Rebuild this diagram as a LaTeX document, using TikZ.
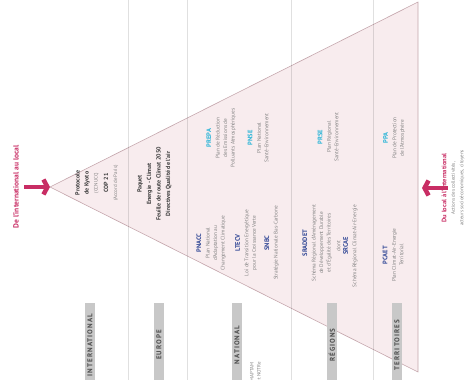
\documentclass[tikz,border=0pt]{standalone}
\usepackage{fontspec}
\setmainfont{PT Sans}
\newfontfamily\levelfont[LetterSpace=15]{PT Sans}
\usepackage{tikz}
\usetikzlibrary{arrows.meta}
\definecolor{flowpink}{RGB}{200,45,100}
\definecolor{funnelfill}{RGB}{248,236,238}
\definecolor{funneledge}{RGB}{196,166,172}
\definecolor{planblue}{RGB}{50,72,150}
\definecolor{plancyan}{RGB}{40,180,215}
\definecolor{darktxt}{RGB}{60,60,60}
\definecolor{greytxt}{RGB}{130,130,130}
\definecolor{levelgrey}{RGB}{200,200,200}
\tikzset{
funnel/.style = {draw = funneledge, fill = funnelfill, line width = 0.6pt},
sep/.style = {draw = black, opacity = 0.12, line width = 0.6pt},
level/.style = {rotate = 90, fill = levelgrey, text = black!70, minimum width = 84pt, minimum height = 10.5pt, inner sep = 0pt, font = \levelfont\bfseries\fontsize{7}{8}\selectfont},
plan/.style = {rotate = 90, align = center, inner sep = 0pt, text = greytxt, font = \fontsize{5.3}{7.5}\selectfont},
treaty/.style = {rotate = 90, align = center, inner sep = 0pt, text = darktxt, font = \bfseries\fontsize{6}{9}\selectfont},
flow/.style = {draw = flowpink, line width = 4.5pt, -{Straight Barb[length = 4pt, width = 15pt]}},
flowtext/.style = {rotate = 90, align = center, inner sep = 0pt, text = flowpink, font = \bfseries\fontsize{7.5}{9}\selectfont},
}
% acronyms: blue for climate plans, cyan for air and health plans
\newcommand{\acr}[1]{{\color{planblue}\bfseries\fontsize{6.5}{7.5}\selectfont #1}}
\newcommand{\acrc}[1]{{\color{plancyan}\bfseries\fontsize{6.5}{7.5}\selectfont #1}}
\newcommand{\note}[1]{{\mdseries\color{greytxt}\fontsize{5}{7}\selectfont #1}}

\begin{document}
\begin{tikzpicture}[x = 1pt, y = -1pt]
    \useasboundingbox (0, 0) rectangle (469, 380);
    \clip (0, 0) rectangle (469, 380);
    \coordinate (apex) at (50, 187);
    \coordinate (topRight) at (418, 2);
    \coordinate (botRight) at (418, 372);
    \path[funnel] (apex) -- (topRight) -- (botRight) -- cycle;
    \foreach \sx in {128, 187, 291, 373}
        \draw[sep] (\sx, 0) -- (\sx, 380);
    % level labels
    \node[level] (intl) at (90, 345) {INTERNATIONAL};
    \node[level] (europe) at (159, 345) {EUROPE};
    \node[level] (national) at (237, 345) {NATIONAL};
    \node[level] (regions) at (332, 345) {RÉGIONS};
    \node[level] (territoires) at (397, 345) {TERRITOIRES};
    \node[plan, anchor = east, align = right, font = \fontsize{5}{7}\selectfont] (maptam) at (255.5, 362) {Lois MAPTAM\\et NOTRe};
    % international and europe
    \node[treaty] (kyoto) at (87, 183) {Protocole\\de Kyoto\\\note{(CCNUCC)}};
    \node[treaty] (cop) at (111, 183) {COP 21\\\note{(Accord de Paris)}};
    \node[treaty, font = \bfseries\fontsize{6}{9.5}\selectfont] (paquet) at (154.5, 184) {Paquet\\Energie - Climat\\Feuille de route Climat 2050\\Directives Qualité de l'air};
    % national
    \node[plan] (prepa) at (221, 138) {\acrc{PREPA}\\[1pt]Plan de Réduction\\des Emissions de\\Polluants Atmosphériques};
    \node[plan] (pnse) at (258, 138) {\acrc{PNSE}\\[1pt]Plan National\\Santé-Environnement};
    \node[plan] (pnacc) at (211, 243) {\acr{PNACC}\\[1pt]Plan National\\d'Adaptation au\\Changement Climatique};
    \node[plan] (ltecv) at (246, 243) {\acr{LTECV}\\[1pt]Loi de Transition Energétique\\pour la Croissance Verte};
    \node[plan] (snbc) at (271.5, 243) {\acr{SNBC}\\[1pt]Stratégie Nationale Bas-Carbone};
    % regions
    \node[plan] (prse) at (328, 137) {\acrc{PRSE}\\[1pt]Plan Régional\\Santé-Environnement};
    \node[plan] (sraddet) at (317, 243) {\acr{SRADDET}\\[1pt]Schéma Régional d'Aménagement\\de Développement Durable\\et d'Égalité des Territoires};
    \node[plan] (srcae) at (347, 246) {dont\\\acr{SRCAE}\\[1pt]Schéma Régional Climat-Air-Energie};
    % territories
    \node[plan] (ppa) at (394, 138) {\acrc{PPA}\\[1pt]Plan de Protection\\de l'Atmosphère};
    \node[plan] (pcaet) at (393, 255) {\acr{PCAET}\\[1pt]Plan Climat-Air-Energie\\Territorial};
    % top-down and bottom-up
    \coordinate (inTail) at (24, 187);
    \coordinate (inTip) at (50, 187);
    \coordinate (outTail) at (448, 188);
    \coordinate (outTip) at (422, 188);
    \draw[flow] (inTail) -- (inTip);
    \draw[flow] (outTail) -- (outTip);
    \node[flowtext] (down) at (16, 187) {De l'international au local};
    \node[flowtext, font = \bfseries\fontsize{6.5}{8.5}\selectfont] (up) at (453, 188) {Du local à l'international\\\note{Actions des collectivités,}\\\note{acteurs socioéconomiques, citoyens}};
\end{tikzpicture}
\end{document}
